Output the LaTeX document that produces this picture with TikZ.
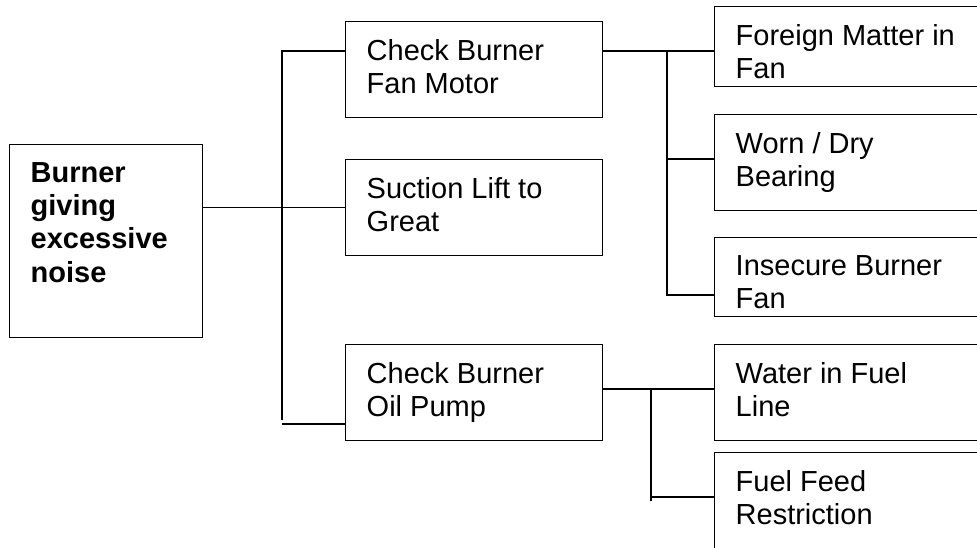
\documentclass[tikz,border=0pt]{standalone}
\usepackage{fontspec}
\setmainfont{Liberation Sans}
\newcommand{\boxtext}[3]{\parbox[c][#2][t]{#1}{\raggedright\vspace*{17.5pt}#3}}

\begin{document}
\begin{tikzpicture}[x=1pt, y=-1pt,
    box/.style={draw, line width=1.4pt, anchor=north west, inner xsep=21pt, inner ysep=0pt,
        font=\fontsize{29}{33.4}\selectfont},
    link/.style={line width=1.3pt}]
    \useasboundingbox (0,0) rectangle (977,547);
    \clip (0,0) rectangle (977,547);
    % fault and first checks
    \node[box] (root) at (9,144) {\boxtext{151pt}{193pt}{\bfseries Burner\\giving\\excessive\\noise}};
    \node[box] (fan) at (345,21) {\boxtext{215pt}{96pt}{Check Burner\\Fan Motor}};
    \node[box] (suction) at (345,159) {\boxtext{215pt}{96pt}{Suction Lift to\\Great}};
    \node[box] (pump) at (345,344) {\boxtext{215pt}{96pt}{Check Burner\\Oil Pump}};
    % causes
    \node[box] (foreign) at (714,6) {\boxtext{238pt}{80pt}{Foreign Matter in\\Fan}};
    \node[box] (worn) at (714,114) {\boxtext{238pt}{96pt}{Worn / Dry\\Bearing}};
    \node[box] (insecure) at (714,237) {\boxtext{238pt}{79pt}{Insecure Burner\\Fan}};
    \node[box] (water) at (714,344) {\boxtext{238pt}{96pt}{Water in Fuel\\Line}};
    \node[box] (fuel) at (714,452) {\boxtext{238pt}{96pt}{Fuel Feed\\Restriction}};

    \coordinate (mainbus) at (282,420);
    \coordinate (fanbus) at (667,295);
    \coordinate (pumpbus) at (651,501);
    \coordinate (fanin) at ([yshift=-30pt]fan.north west);
    \coordinate (pumpin) at ([yshift=-80pt]pump.north west);
    \coordinate (fanout) at ([yshift=-30pt]fan.north east);
    \coordinate (wornin) at ([yshift=-45pt]worn.north west);
    \coordinate (pumpout) at ([yshift=-45pt]pump.north east);
    \coordinate (fuelin) at ([yshift=-45pt]fuel.north west);

    \draw[link] (root.east |- suction.west) -- (suction.west);
    \draw[link] (fanin) -| (mainbus);
    \draw[link] (pumpin) -- (pumpin -| mainbus);
    \draw[link] (fanout) -- (fanout -| foreign.west);
    \draw[link] (fanout -| fanbus) -- (fanbus) -- (fanbus -| insecure.west);
    \draw[link] (wornin) -- (wornin -| fanbus);
    \draw[link] (pumpout) -- (pumpout -| water.west);
    \draw[link] (pumpout -| pumpbus) -- (pumpbus);
    \draw[link] (fuelin) -- (fuelin -| pumpbus);
\end{tikzpicture}
\end{document}
